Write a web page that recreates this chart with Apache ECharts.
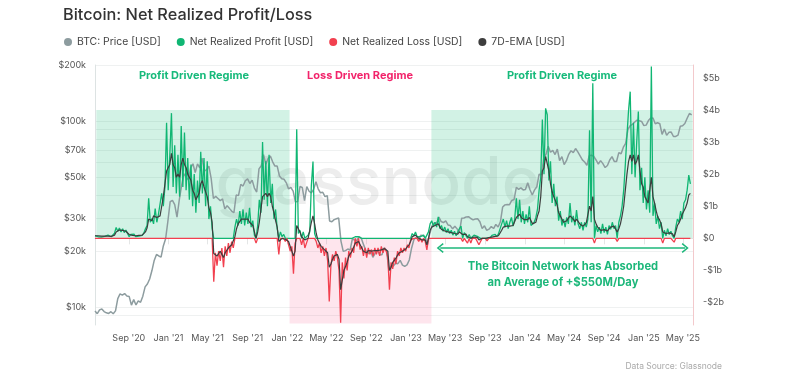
<!DOCTYPE html>
<html>
<head>
<meta charset="utf-8">
<script src="https://cdn.jsdelivr.net/npm/echarts@6/dist/echarts.min.js"></script>
<style>
html,body{margin:0;padding:0;background:#fff;}
#c{width:789px;height:388px;}
</style>
</head>
<body>
<div id="c"></div>
<script>
// ---- DATA ----
// BTC price [USD], weekly from 2020-05-20
const priceStart = [2020, 4, 20];
const priceStepDays = 7;
const btcPrice = [
 9500,9200,9650,9750,9450,9300,9230,9430,9200,9530,11100,11750,11580,11800,11450,11400,10230,10950,10250,10780,10600,11430,12820,13300,14150,15700,17800,19150,18800,18550,21300,23250,28900,
 36800,37400,35500,30400,37600,44800,52100,49700,48400,55900,58900,52800,58800,56000,63100,53800,54800,57200,49200,38300,39300,38300,37300,38100,33700,35000,33900,32800,32100,40000,39700,45600,44700,47700,48800,46100,48100,43600,41500,55300,57400,65900,58500,62900,64900,60300,57200,57200,50600,48900,48600,46500,
 43100,43900,42000,36800,36900,44400,43900,37300,44400,41900,41100,42900,47100,43200,41100,41400,39200,39700,29000,28700,29500,29800,30100,22600,19900,20100,20500,20200,23200,22900,22800,23900,23300,21500,20000,19300,20200,18500,19400,20300,19100,19100,20800,20200,15900,16600,16600,17200,17100,17800,16800,16550,
 16850,17900,20700,23000,23700,22900,24300,24200,23600,21700,24800,27300,28400,28200,30400,28800,28400,29000,27600,27400,26300,27200,26300,25100,30000,30100,30500,30600,29900,29400,29700,29800,28700,26400,27300,25800,26200,27100,26400,27800,26900,28700,34500,35400,35600,35500,37400,37800,44000,42900,43700,42600,
 42800,46600,42700,40000,42600,44300,51800,51300,62500,66100,73100,67900,69500,66000,70600,61300,64300,58300,61200,66200,69200,67600,71100,68200,65000,61800,60200,57700,65100,65400,64600,61700,58700,61200,59000,56200,57600,61700,64300,60600,60600,67600,66700,72300,75900,90000,94300,96000,98800,101100,100200,99400,
 94400,95000,100500,103600,103700,96600,97800,96600,84700,90600,83700,86900,87200,82500,82600,84000,93700,94200,97000,103500,109700,107800
];
// Net realized profit/loss [$b], every 5 days from 2020-05-20 (positive = profit, negative = loss)
const netStart = [2020, 4, 20];
const netStepDays = 5;
const netPL = [
 .08,.14,.05,.11,.04,.09,.06,.04,.1,.05,
 .05,.09,.16,.34,.22,.32,.2,.3,.18,.26,
 .15,.05,.12,.06,.13,.05,.11,.07,.13,.09,
 .16,.3,.4,1.25,.5,.62,.45,.93,.5,.75,
 .8,1.4,1.0,1.6,3.6,1.5,2.6,3.9,1.6,2.9,
 1.4,2.6,1.3,3.5,1.6,3.3,1.5,2.5,1.2,2.3,
 1.0,2.0,.8,1.8,1.1,2.7,1.4,2.5,1.0,2.4,
 .6,1.0,.3,-1.35,-.45,-.85,-.4,-.7,-.3,-.9,
 -.25,-.55,-.15,-.45,-.1,-.3,.35,.6,.4,.85,
 .45,.9,.4,.8,.45,.95,.35,.55,.1,-.15,
 .4,1.2,.8,3.0,1.2,2.4,1.0,2.6,1.1,1.7,
 .6,.9,.3,-.5,.2,.05,.12,-.1,.06,-.2,
 -.4,-.25,-1.1,-.15,3.4,.15,.25,-.2,.2,-.3,
 -.15,.1,.2,1.66,2.39,.15,-.1,-.3,-.15,-.45,
 -.25,-.55,-.3,-.7,-1.97,-.85,-.5,-.7,-.4,-.6,
 -1.0,-2.63,-.75,-1.25,-.6,-1.0,-.4,-.6,-.3,-.45,
 .05,-.25,.05,-.35,-.25,-.55,-.3,-.6,-.3,-.5,
 -.35,-.55,-.3,-.5,-.3,-.55,-.25,-.45,-.3,-.4,
 -.6,-1.6,-.75,-.95,-.6,-.8,-.4,-.55,-.3,-.45,
 -.3,-.4,-.2,-.3,-.05,.15,.08,.2,.05,-.1,
 .05,-.12,.1,-.1,-.36,.2,.45,.55,.38,.5,
 .35,.67,.3,.4,.22,.35,.18,.3,.15,.25,
 .1,.22,.08,.2,.3,.38,-.1,.18,.22,-.15,
 .12,-.15,.05,.1,.04,.06,-.2,-.1,.05,-.05,
 .03,-.08,.06,.02,.09,.04,.12,.05,.14,.1,
 .45,.6,.35,.55,.3,.5,.65,.38,.6,1.25,
 .6,1.2,.5,.85,.45,.75,.5,1.0,.4,.35,
 .5,.65,.9,1.5,1.9,3.7,2.0,4.05,3.85,1.8,
 2.4,1.1,1.7,1.0,1.3,.55,.85,.4,.6,.35,
 .65,.45,1.1,.5,.7,.4,.88,.45,.3,.5,
 .25,.5,.35,.6,3.37,.5,4.83,-.15,.4,.2,
 .35,.15,.45,.18,.35,.12,.4,.28,.5,.3,
 .4,-.1,.5,.7,1.0,1.5,2.3,3.2,4.0,4.57,
 2.0,3.6,1.9,3.0,3.95,1.5,2.2,1.1,1.9,.9,
 1.5,.8,5.35,.7,1.09,.45,.7,.3,.5,-.15,
 .25,.08,.3,.12,.22,.08,-.12,.35,.6,.5,
 .85,.6,1.1,1.2,1.5,1.97,1.7
];
// 7D-EMA of net realized P/L [$b], same dates as netPL
const ema7d = [
 .08,.08,.08,.08,.07,.07,.07,.07,.07,.07,
 .06,.07,.1,.2,.24,.26,.25,.25,.23,.22,
 .18,.12,.1,.09,.09,.08,.09,.09,.1,.1,
 .13,.2,.32,.6,.6,.55,.7,.72,.65,.62,
 .7,1.0,1.3,1.3,2.1,2.2,2.3,2.65,2.3,2.2,
 1.9,2.0,1.9,2.3,2.5,2.3,2.2,2.0,2.0,1.8,
 1.5,1.4,1.2,1.2,1.4,1.7,1.8,1.6,1.6,1.3,
 .95,.8,.5,-.47,-.5,-.55,-.5,-.4,-.5,-.6,
 -.45,-.4,-.3,-.3,-.2,-.2,.05,.3,.45,.5,
 .6,.6,.6,.55,.6,.5,.5,.4,.2,0,
 .2,.5,.9,1.3,1.3,1.4,1.3,1.4,1.3,1.0,
 .8,.55,.35,-.1,-.05,0,.02,-.03,-.02,-.1,
 -.25,-.3,-.55,-.4,.4,.3,.2,.05,.05,-.05,
 -.1,0,.05,.5,.7,.45,.15,-.05,-.15,-.25,
 -.3,-.35,-.35,-.45,-.9,-.8,-.65,-.55,-.55,-.5,
 -.65,-1.6,-1.3,-1.0,-.95,-.75,-.55,-.5,-.4,-.35,
 -.15,-.15,-.1,-.2,-.3,-.4,-.38,-.45,-.38,-.4,
 -.4,-.42,-.38,-.4,-.38,-.42,-.36,-.3,-.32,-.3,
 -.4,-1.0,-.9,-.75,-.72,-.62,-.52,-.45,-.4,-.4,
 -.38,-.33,-.28,-.2,-.1,.05,.08,.1,.08,0,
 0,-.05,0,-.05,-.2,0,.25,.35,.38,.4,
 .42,.45,.35,.28,.27,.23,.23,.2,.2,.18,
 .15,.15,.13,.13,.2,.25,.12,.12,.13,.05,
 .05,0,.02,.04,.04,.03,-.05,-.05,0,0,
 0,0,.02,.02,.04,.05,.06,.06,.08,.09,
 .25,.35,.35,.38,.36,.38,.42,.4,.42,.65,
 .6,.75,.65,.65,.58,.6,.58,.65,.55,.45,
 .45,.5,.7,.85,1.3,2.1,2.2,2.55,2.5,2.1,
 1.7,1.45,1.3,1.3,1.05,.8,.75,.6,.5,.5,
 .55,.52,.7,.65,.6,.52,.6,.55,.45,.42,
 .38,.4,.48,.48,1.0,.85,1.3,.6,.45,.35,
 .32,.25,.3,.27,.28,.23,.28,.35,.32,.38,
 .36,.2,.3,.45,.7,1.0,1.5,2.0,2.4,2.6,
 2.4,2.6,2.3,2.4,2.6,2.1,1.7,1.6,1.3,1.25,
 1.1,1.1,1.9,1.3,1.1,.85,.65,.58,.45,.2,
 .2,.15,.18,.17,.18,.14,.05,.2,.4,.48,
 .6,.75,.8,.95,1.1,1.35,1.4
];
// Axis ticks
const priceTickLabels = [10000, 20000, 30000, 50000, 70000, 100000, 200000];
const priceGridLines = [9000, 10000, 20000, 30000, 40000, 50000, 60000, 70000, 80000, 90000, 100000, 200000];
const plTicks = [-2, -1, 0, 1, 2, 3, 4, 5];
const dateTicks = ['2020-09-01','2021-01-01','2021-05-01','2021-09-01','2022-01-01','2022-05-01','2022-09-01','2023-01-01','2023-05-01','2023-09-01','2024-01-01','2024-05-01','2024-09-01','2025-01-01','2025-05-01'];
// Regimes: [start, end, top, bottom, kind]
const regimes = [
 ['2020-05-24', '2022-01-08', 4, 0, 'profit'],
 ['2022-01-08', '2023-03-20', 0, -2.65, 'loss'],
 ['2023-03-20', '2025-05-31', 4, 0, 'profit']
];

// ---- BUILD ----
const DAY = 864e5;
const t0p = new Date(priceStart[0], priceStart[1], priceStart[2]).getTime();
const t0n = new Date(netStart[0], netStart[1], netStart[2]).getTime();
const priceData = btcPrice.map((p, i) => [t0p + i * priceStepDays * DAY, p]);
const profitData = netPL.map((v, i) => [t0n + i * netStepDays * DAY, Math.max(v, 0)]);
const lossData = netPL.map((v, i) => [t0n + i * netStepDays * DAY, Math.min(v, 0)]);
const emaData = ema7d.map((v, i) => [t0n + i * netStepDays * DAY, v]);
const parseD = s => { const a = s.split('-').map(Number); return new Date(a[0], a[1] - 1, a[2]).getTime(); };
const dateTickVals = dateTicks.map(parseD);
const MONTHS = ['Jan','Feb','Mar','Apr','May','Jun','Jul','Aug','Sep','Oct','Nov','Dec'];

const GREEN = '#10b673';
const RED = '#f2404f';
const FONT = 'Inter';

const areaColors = { profit: 'rgba(18,185,115,0.19)', loss: 'rgba(245,70,125,0.14)' };
const markAreaData = regimes.map(r => [
  { xAxis: parseD(r[0]), yAxis: r[2], itemStyle: { color: areaColors[r[4]] } },
  { xAxis: parseD(r[1]), yAxis: r[3] }
]);

const chart = echarts.init(document.getElementById('c'), null, { renderer: 'canvas' });
chart.setOption({
  animation: false,
  backgroundColor: '#fff',
  textStyle: { fontFamily: FONT },
  title: {
    text: 'Bitcoin: Net Realized Profit/Loss',
    left: 58, top: 2,
    textStyle: { fontSize: 16.3, fontWeight: 500, color: '#333', fontFamily: FONT }
  },
  legend: {
    left: 59, top: 32,
    icon: 'circle', itemWidth: 8, itemHeight: 8, itemGap: 16,
    data: ['BTC: Price [USD]', 'Net Realized Profit [USD]', 'Net Realized Loss [USD]', '7D-EMA [USD]'],
    textStyle: { fontSize: 10.4, color: '#444', fontFamily: FONT }
  },
  grid: { left: 95, right: 96, top: 65, bottom: 63 },
  xAxis: {
    type: 'value',
    min: parseD('2020-05-20'), max: parseD('2025-06-01'),
    axisLine: { show: true, lineStyle: { color: '#e6e8e8' } },
    axisTick: { show: true, customValues: dateTickVals, length: 6, lineStyle: { color: '#e4e6e6' } },
    splitLine: { show: false },
    axisLabel: {
      customValues: dateTickVals,
      color: '#555', fontSize: 9, margin: 9, fontFamily: FONT,
      formatter: v => { const d = new Date(v); return MONTHS[d.getMonth()] + " '" + String(d.getFullYear()).slice(2); }
    }
  },
  yAxis: [
    { type: 'log', logBase: 10, min: 8000, max: 200000, show: false },
    {
      type: 'value', position: 'left',
      min: Math.log10(8000), max: Math.log10(200000),
      axisLine: { show: true, lineStyle: { color: '#dde3e3' } },
      axisTick: { show: false, customValues: priceGridLines.map(Math.log10) },
      splitLine: { show: true, lineStyle: { color: '#eff1f1', width: 1 } },
      axisLabel: {
        customValues: priceTickLabels.map(Math.log10),
        color: '#555', fontSize: 9, margin: 9, fontFamily: FONT,
        formatter: v => '$' + Math.round(Math.pow(10, v) / 1000) + 'k'
      }
    },
    {
      type: 'value', position: 'right', min: -2.7, max: 5.4,
      axisLine: { show: true, lineStyle: { color: '#f3c9cc' } },
      axisTick: { show: false },
      splitLine: { show: false },
      axisLabel: {
        customValues: plTicks,
        color: '#555', fontSize: 9, margin: 10, fontFamily: FONT,
        formatter: v => v === 0 ? '$0' : (v < 0 ? '-$' : '$') + Math.abs(v) + 'b'
      }
    }
  ],
  series: [
    {
      name: 'regimes', type: 'line', yAxisIndex: 2, data: [], z: 1, silent: true,
      markArea: { silent: true, data: markAreaData }
    },
    {
      name: 'BTC: Price [USD]', type: 'line', yAxisIndex: 0, data: priceData,
      showSymbol: false, z: 2, color: '#8d9c9f',
      lineStyle: { width: 1.5, color: '#8d9c9f' }
    },
    {
      name: 'Net Realized Profit [USD]', type: 'line', yAxisIndex: 2, data: profitData,
      showSymbol: false, z: 3, color: GREEN,
      lineStyle: { width: 1.3, color: GREEN }
    },
    {
      name: 'Net Realized Loss [USD]', type: 'line', yAxisIndex: 2, data: lossData,
      showSymbol: false, z: 3, color: RED,
      lineStyle: { width: 1.3, color: RED },
      markLine: {
        silent: true,
        symbol: ['path://M0,8 L6,0 L12,8 L10.4,9.2 L6,3 L1.6,9.2 Z', 'path://M0,8 L6,0 L12,8 L10.4,9.2 L6,3 L1.6,9.2 Z'],
        symbolSize: [10, 7],
        label: { show: false },
        lineStyle: { color: '#1cb77a', width: 1.5, type: 'solid' },
        data: [[{ coord: [parseD('2023-04-16'), -0.3] }, { coord: [parseD('2025-05-08'), -0.3] }]]
      }
    },
    {
      name: '7D-EMA [USD]', type: 'line', yAxisIndex: 2, data: emaData,
      showSymbol: false, z: 4, color: '#3d3d3d',
      lineStyle: { width: 1.2, color: '#3d3d3d' }
    }
  ],
  graphic: [
    { type: 'text', x: 378, y: 184, z: 1, silent: true,
      style: { text: 'glassnode', font: '500 66px Inter', fill: 'rgba(60,60,60,0.09)', align: 'center', verticalAlign: 'middle' } },
    { type: 'text', x: 194, y: 76, z: 10,
      style: { text: 'Profit Driven Regime', font: 'bold 11px Inter', fill: '#17ba7b', align: 'center', verticalAlign: 'middle' } },
    { type: 'text', x: 360, y: 76, z: 10,
      style: { text: 'Loss Driven Regime', font: 'bold 11px Inter', fill: '#f2246b', align: 'center', verticalAlign: 'middle' } },
    { type: 'text', x: 562, y: 76, z: 10,
      style: { text: 'Profit Driven Regime', font: 'bold 11px Inter', fill: '#17ba7b', align: 'center', verticalAlign: 'middle' } },
    { type: 'text', x: 563, y: 267, z: 10,
      style: { text: 'The Bitcoin Network has Absorbed', font: 'bold 11.2px Inter', fill: '#1cb77a', align: 'center', verticalAlign: 'middle' } },
    { type: 'text', x: 563, y: 283, z: 10,
      style: { text: 'an Average of +$550M/Day', font: 'bold 11.2px Inter', fill: '#1cb77a', align: 'center', verticalAlign: 'middle' } },
    { type: 'text', x: 722, y: 366, z: 10,
      style: { text: 'Data Source: Glassnode', font: '8.5px Inter', fill: '#aaa', align: 'right', verticalAlign: 'middle' } }
  ]
});
</script>
</body>
</html>
